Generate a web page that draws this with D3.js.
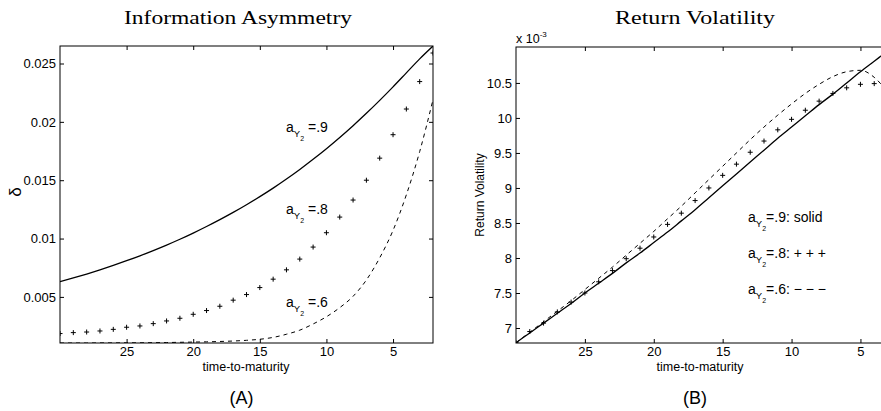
<!DOCTYPE html>
<html>
<head>
<meta charset="utf-8">
<script src="https://cdn.jsdelivr.net/npm/d3@7"></script>
<style>
  body { margin: 0; background: #fff; }
  svg { display: block; font-family: "Liberation Sans", Arial, sans-serif; }
</style>
</head>
<body>
<div id="chart"></div>
<script>
// panel A: information asymmetry, t = 30 .. 2
const tA = [30,29,28,27,26,25,24,23,22,21,20,19,18,17,16,15,14,13,12,11,10,9,8,7,6,5,4,3,2]
const solidA = [.00630,.00662,.00696,.00732,.00770,.00810,.00852,.00897,.00944,.00994,.01047,.01103,.01162,.01224,.01290,.01359,.01432,.01510,.01592,.01679,.01770,.01866,.01967,.02073,.02184,.02300,.02420,.02540,.02650]
const plusA = [.00186,.00194,.00199,.00208,.00222,.00240,.00251,.00271,.00294,.00317,.00351,.00383,.00420,.00472,.00520,.00580,.00652,.00732,.00824,.00927,.01050,.01184,.01330,.01500,.01689,.01890,.02110,.02345,.02590]
const dashA = [.00105,.00105,.00105,.00106,.00106,.00107,.00107,.00108,.00109,.00111,.00113,.00115,.00118,.00122,.00128,.00137,.00153,.00180,.00215,.00268,.00330,.00408,.00505,.00645,.00835,.01070,.01375,.01745,.02190]
const xTicksA = [25,20,15,10,5]
const yTicksA = [0.005,0.01,0.015,0.02,0.025]
const yLabelsA = ['0.005','0.01','0.015','0.02','0.025']

// panel B: return volatility (x 10^-3), t = 30 .. 3
const tB = [30,29,28,27,26,25,24,23,22,21,20,19,18,17,16,15,14,13,12,11,10,9,8,7,6,5,4,3]
const solidB = [6.79,6.93,7.07,7.21,7.35,7.50,7.64,7.78,7.93,8.07,8.22,8.37,8.53,8.69,8.86,9.03,9.20,9.37,9.54,9.71,9.87,10.03,10.19,10.34,10.50,10.66,10.81,10.96]
const plusB = [6.79,6.95,7.07,7.23,7.37,7.50,7.66,7.82,7.99,8.14,8.30,8.48,8.64,8.82,9.00,9.18,9.34,9.51,9.67,9.83,9.98,10.11,10.24,10.35,10.43,10.48,10.49,10.48]
const dashB = [6.79,6.94,7.09,7.24,7.39,7.55,7.71,7.87,8.04,8.21,8.38,8.56,8.74,8.93,9.12,9.31,9.50,9.69,9.87,10.04,10.20,10.35,10.48,10.59,10.66,10.68,10.58,10.36]
const xTicksB = [25,20,15,10,5]
const yTicksB = [7,7.5,8,8.5,9,9.5,10,10.5]

const w = 881
const h = 411

const svg = d3.select('#chart')
  .append('svg')
  .attr('width', w)
  .attr('height', h)

svg.append('rect').attr('width', w).attr('height', h).attr('fill', '#fff')

function panel(id, t, solid, plus, dash, xs, ys, xTicks, yTicks, yFmt) {
  const [x0, x1] = xs.range()
  const [y0, y1] = ys.range()
  const g = svg.append('g')

  g.append('clipPath').attr('id', id)
    .append('rect')
    .attr('x', x0).attr('y', y1)
    .attr('width', x1 - x0).attr('height', y0 - y1)

  const plot = g.append('g').attr('clip-path', 'url(#' + id + ')')

  const line = vals => d3.line()
    .x((d, i) => xs(t[i]))
    .y(d => ys(d))
    .curve(d3.curveMonotoneX)(vals)

  plot.append('path')
    .attr('d', line(solid))
    .attr('fill', 'none')
    .attr('stroke', '#000')
    .attr('stroke-width', 1.3)

  plot.append('path')
    .attr('d', line(dash))
    .attr('fill', 'none')
    .attr('stroke', '#000')
    .attr('stroke-width', 1)
    .attr('stroke-dasharray', '4,4')

  plot.selectAll('path.plus')
    .data(plus)
    .enter()
    .append('path')
    .attr('class', 'plus')
    .attr('d', 'M-2.5,0H2.5M0,-2.5V2.5')
    .attr('transform', (d, i) => 'translate(' + xs(t[i]) + ',' + ys(d) + ')')
    .attr('stroke', '#000')
    .attr('stroke-width', 1)

  const xAxis = d3.axisBottom(xs).tickValues(xTicks).tickSize(-4).tickSizeOuter(0).tickPadding(4)
  const xTop = d3.axisTop(xs).tickValues(xTicks).tickSize(-4).tickSizeOuter(0).tickFormat('')
  const yAxis = d3.axisLeft(ys).tickValues(yTicks).tickSize(-4).tickSizeOuter(0).tickPadding(4).tickFormat(yFmt)
  const yRight = d3.axisRight(ys).tickValues(yTicks).tickSize(-4).tickSizeOuter(0).tickFormat('')

  g.append('g').attr('transform', 'translate(0,' + y0 + ')').call(xAxis)
  g.append('g').attr('transform', 'translate(0,' + y1 + ')').call(xTop)
  g.append('g').attr('transform', 'translate(' + x0 + ',0)').call(yAxis)
  g.append('g').attr('transform', 'translate(' + x1 + ',0)').call(yRight)

  g.selectAll('.domain').remove()
  g.selectAll('.tick line').attr('stroke', '#000')
  g.selectAll('.tick text')
    .attr('font-family', '"Liberation Sans", Arial, sans-serif')
    .attr('font-size', 13)
    .attr('fill', '#000')

  g.append('rect')
    .attr('x', x0).attr('y', y1)
    .attr('width', x1 - x0).attr('height', y0 - y1)
    .attr('fill', 'none')
    .attr('stroke', '#000')
    .attr('stroke-width', 1)

  return g
}

// a_{Y_2} label with nested subscripts
function aLabel(x, y, rest, size) {
  const t = svg.append('text')
    .attr('x', x).attr('y', y)
    .attr('font-size', size)
    .attr('fill', '#000')
  t.append('tspan').text('a')
  t.append('tspan').attr('font-size', size * 0.68).attr('dy', 5).text('Y')
  t.append('tspan').attr('font-size', size * 0.5).attr('dy', 4).text('2')
  t.append('tspan').attr('dy', -9).text(rest)
}

const xA = d3.scaleLinear().domain([30, 2]).range([60, 433])
const yA = d3.scaleLinear().domain([0.00105, 0.0265]).range([343, 46])
panel('clipA', tA, solidA, plusA, dashA, xA, yA, xTicksA, yTicksA, (d, i) => yLabelsA[i])

const xB = d3.scaleLinear().domain([30, 3]).range([516, 888])
const yB = d3.scaleLinear().domain([6.786, 11.013]).range([343, 47])
panel('clipB', tB, solidB, plusB, dashB, xB, yB, xTicksB, yTicksB, d => d3.format('~g')(d))

// titles
svg.append('text').attr('x', 238).attr('y', 24).attr('text-anchor', 'middle')
  .attr('font-family', '"Liberation Serif", serif').attr('font-size', 18.5)
  .attr('textLength', 228).attr('lengthAdjust', 'spacingAndGlyphs')
  .text('Information Asymmetry')
svg.append('text').attr('x', 695).attr('y', 24).attr('text-anchor', 'middle')
  .attr('font-family', '"Liberation Serif", serif').attr('font-size', 18.5)
  .attr('textLength', 160).attr('lengthAdjust', 'spacingAndGlyphs')
  .text('Return Volatility')

// axis labels
svg.append('text').attr('x', 246).attr('y', 371).attr('text-anchor', 'middle')
  .attr('font-size', 12.5).text('time-to-maturity')
svg.append('text').attr('x', 700).attr('y', 371).attr('text-anchor', 'middle')
  .attr('font-size', 12.5).text('time-to-maturity')

svg.append('text').attr('transform', 'translate(21,192) rotate(-90)').attr('text-anchor', 'middle')
  .attr('font-size', 17).text('δ')
svg.append('text').attr('transform', 'translate(484,195) rotate(-90)').attr('text-anchor', 'middle')
  .attr('font-size', 12).text('Return Volatility')

const mult = svg.append('text').attr('x', 516).attr('y', 43).attr('font-size', 12.5)
mult.append('tspan').text('x 10')
mult.append('tspan').attr('font-size', 8).attr('dy', -6).text('-3')

svg.append('text').attr('x', 241.5).attr('y', 404).attr('text-anchor', 'middle')
  .attr('font-size', 18).text('(A)')
svg.append('text').attr('x', 695).attr('y', 404).attr('text-anchor', 'middle')
  .attr('font-size', 18).text('(B)')

// curve annotations, panel A
aLabel(286, 132, ' =.9', 14)
aLabel(286, 214, ' =.8', 14)
aLabel(286, 307, ' =.6', 14)

// legend text, panel B
aLabel(748, 222, '=.9: solid', 14)
aLabel(748, 258, '=.8: + + +', 14)
aLabel(748, 294, '=.6: \u2212 \u2212 \u2212', 14)
</script>
</body>
</html>
